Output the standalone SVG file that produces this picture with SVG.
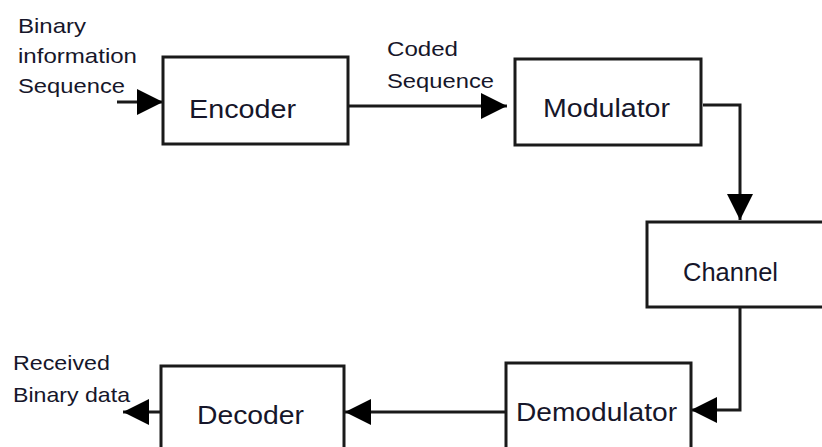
<svg xmlns="http://www.w3.org/2000/svg" width="822" height="447" viewBox="0 0 822 447">
  <style>
    .box { fill: #ffffff; stroke: #1a1a1a; stroke-width: 3; }
    .wire { fill: none; stroke: #1a1a1a; stroke-width: 3; }
    .title { font-family: "Liberation Sans", Arial, sans-serif; font-size: 26px; fill: #16162a; }
    .note { font-family: "Liberation Sans", Arial, sans-serif; font-size: 21px; fill: #16162a; }
  </style>
  <defs>
    <marker id="arrow" markerUnits="userSpaceOnUse" markerWidth="26" markerHeight="26"
            viewBox="0 0 25 25" refX="25" refY="12.5" orient="auto">
      <path d="M0,0 L25,12.5 L0,25 z" fill="#000000"/>
    </marker>
  </defs>

  <rect width="822" height="447" fill="#ffffff"/>

  <!-- connectors -->
  <g id="connectors">
    <path class="wire" d="M117,102 H163" marker-end="url(#arrow)"/>
    <path class="wire" d="M348,106 H507" marker-end="url(#arrow)"/>
    <path class="wire" d="M703,105 H740 V220" marker-end="url(#arrow)"/>
    <path class="wire" d="M740,307 V410 H691" marker-end="url(#arrow)"/>
    <path class="wire" d="M506,412 H345" marker-end="url(#arrow)"/>
    <path class="wire" d="M161,412 H123" marker-end="url(#arrow)"/>
  </g>

  <!-- edge labels -->
  <g id="labels">
    <text class="note" x="18" y="33" textLength="68" lengthAdjust="spacingAndGlyphs">Binary</text>
    <text class="note" x="18" y="63" textLength="119" lengthAdjust="spacingAndGlyphs">information</text>
    <text class="note" x="18" y="93" textLength="107" lengthAdjust="spacingAndGlyphs">Sequence</text>
    <text class="note" x="387" y="56" textLength="71" lengthAdjust="spacingAndGlyphs">Coded</text>
    <text class="note" x="387" y="88" textLength="107" lengthAdjust="spacingAndGlyphs">Sequence</text>
    <text class="note" x="13" y="370" textLength="97" lengthAdjust="spacingAndGlyphs">Received</text>
    <text class="note" x="13" y="402" textLength="117" lengthAdjust="spacingAndGlyphs">Binary data</text>
  </g>

  <g id="encoder">
    <rect class="box" x="163" y="57" width="185" height="87"/>
    <text class="title" x="189" y="118" textLength="107" lengthAdjust="spacingAndGlyphs">Encoder</text>
  </g>

  <g id="modulator">
    <rect class="box" x="515" y="59" width="186" height="86"/>
    <text class="title" x="543" y="117" textLength="127" lengthAdjust="spacingAndGlyphs">Modulator</text>
  </g>

  <g id="channel">
    <rect class="box" x="647" y="222" width="190" height="85"/>
    <text class="title" x="683" y="281" textLength="95" lengthAdjust="spacingAndGlyphs">Channel</text>
  </g>

  <g id="demodulator">
    <rect class="box" x="506" y="363" width="185" height="100"/>
    <text class="title" x="516" y="421" textLength="161" lengthAdjust="spacingAndGlyphs">Demodulator</text>
  </g>

  <g id="decoder">
    <rect class="box" x="161" y="366" width="183" height="100"/>
    <text class="title" x="197" y="424" textLength="107" lengthAdjust="spacingAndGlyphs">Decoder</text>
  </g>
</svg>
